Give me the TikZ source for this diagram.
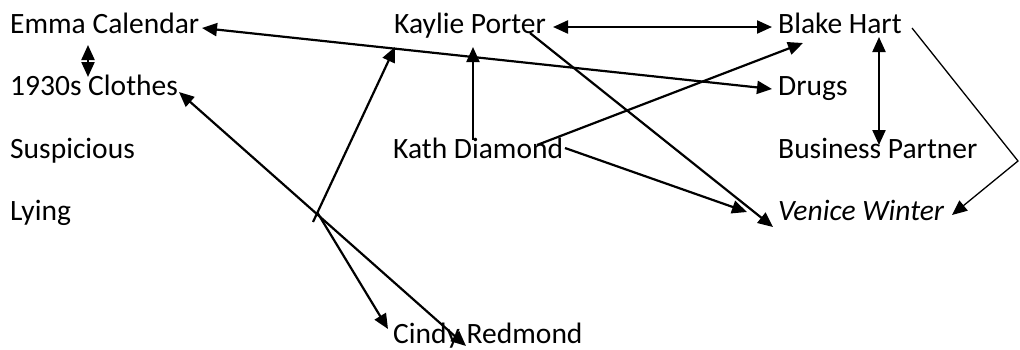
\documentclass[tikz,border=0pt]{standalone}
\usepackage{fontspec}
\setmainfont{Carlito}
\usetikzlibrary{arrows.meta}
\begin{document}
\begin{tikzpicture}[x=1pt,y=-1pt,
  lbl/.style={anchor=base west,inner sep=0pt,font=\fontsize{29.5}{35}\selectfont},
  con/.style={line width=2.2pt,-{Triangle[length=15pt,width=13pt]}},
  bi/.style={line width=2.2pt,{Triangle[length=15pt,width=13pt]}-{Triangle[length=15pt,width=13pt]}},
  thinline/.style={line width=1.3pt,-{Triangle[length=15pt,width=13pt]}}]
\useasboundingbox (0,0) rectangle (1020,349);
% labels
\node[lbl] (emma) at (10,33) {Emma Calendar};
\node[lbl] (clothes) at (10,95) {1930s Clothes};
\node[lbl] (susp) at (10,158) {Suspicious};
\node[lbl] (lying) at (10,220) {Lying};
\node[lbl] (kaylie) at (394,33) {Kaylie Porter};
\node[lbl] (kath) at (393,158) {Kath Diamond};
\node[lbl] (cindy) at (393,343) {Cindy Redmond};
\node[lbl] (blake) at (778,33) {Blake Hart};
\node[lbl] (drugs) at (778,95) {Drugs};
\node[lbl] (bp) at (778,158) {Business Partner};
\node[lbl] (venice) at (778,220) {\itshape Venice Winter};
% connector end points
\coordinate (emmaE) at (202,28);
\coordinate (drugsW) at (772,89);
\coordinate (emmaS) at (88,45);
\coordinate (clothesN) at (88,77);
\coordinate (kaylieE) at (553,27);
\coordinate (blakeW) at (772,27);
\coordinate (kaylieS) at (473,47);
\coordinate (kathN) at (473,140);
\coordinate (blakeS) at (879,37);
\coordinate (bpN) at (879,145);
\coordinate (kathE1) at (537,145);
\coordinate (blakeSW) at (803,43);
\coordinate (kathE2) at (565,148);
\coordinate (veniceW1) at (747,212);
\coordinate (kaylieSE) at (530,33);
\coordinate (veniceW2) at (773,227);
\coordinate (blakeE) at (912,28);
\coordinate (bend) at (1018,161);
\coordinate (veniceE) at (952,215);
\coordinate (clothesE) at (179,92);
\coordinate (cindyR) at (466,346);
\coordinate (kaylieSW) at (395,47);
\coordinate (elbowA) at (313,222);
\coordinate (elbowB) at (317,212);
\coordinate (cindyN) at (388,329);
% connectors
\draw[bi] (emmaE) -- (drugsW);
\draw[bi] (emmaS) -- (clothesN);
\draw[bi] (kaylieE) -- (blakeW);
\draw[con] (kathN) -- (kaylieS);
\draw[bi] (blakeS) -- (bpN);
\draw[con] (kathE1) -- (blakeSW);
\draw[con] (kathE2) -- (veniceW1);
\draw[con] (kaylieSE) -- (veniceW2);
\draw[thinline] (blakeE) -- (bend) -- (veniceE);
\draw[bi] (clothesE) -- (cindyR);
\draw[con] (elbowA) -- (kaylieSW);
\draw[con] (elbowB) -- (cindyN);
\end{tikzpicture}
\end{document}
